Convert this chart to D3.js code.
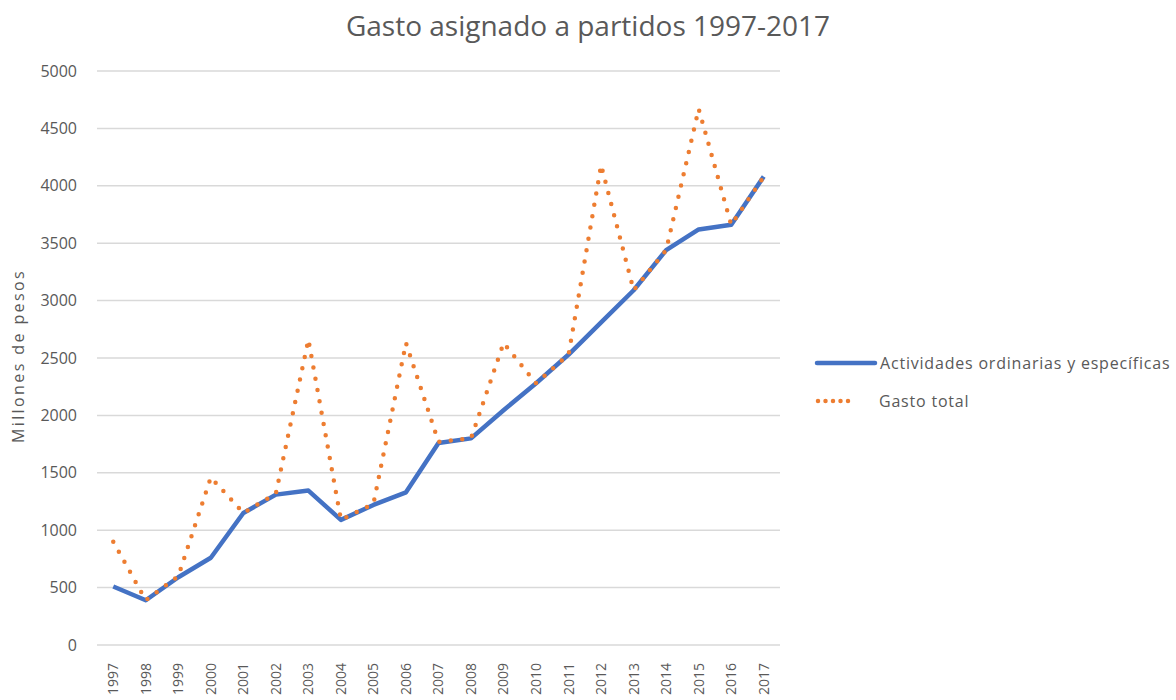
<!DOCTYPE html>
<html>
<head>
<meta charset="utf-8">
<script src="https://cdn.jsdelivr.net/npm/d3@7"></script>
<style>
	body { margin: 0; background: #fff; }
	text { font-family: 'Open Sans', sans-serif; fill: #595959; }
</style>
</head>
<body>
<svg width="1176" height="700"></svg>
<script>
const years = ['1997', '1998', '1999', '2000', '2001', '2002', '2003', '2004', '2005', '2006', '2007',
	'2008', '2009', '2010', '2011', '2012', '2013', '2014', '2015', '2016', '2017'];
const actividades = [510, 390, 590, 760, 1150, 1310, 1345, 1090, 1220, 1330, 1760,
	1800, 2045, 2280, 2530, 2810, 3090, 3440, 3620, 3660, 4080];
const gastoTotal = [900, 390, 600, 1460, 1150, 1320, 2660, 1090, 1230, 2630, 1770,
	1800, 2630, 2280, 2530, 4180, 3090, 3440, 4670, 3660, 4080];
const yTicks = [0, 500, 1000, 1500, 2000, 2500, 3000, 3500, 4000, 4500, 5000];

const svg = d3.select('svg');
const margin = { left: 97, right: 396, top: 71, bottom: 55 };
const width = +svg.attr('width');
const height = +svg.attr('height');

const x = d3.scaleBand()
	.domain(years)
	.range([margin.left, width - margin.right]);

const y = d3.scaleLinear()
	.domain([0, 5000])
	.range([height - margin.bottom, margin.top]);

// gridlines
svg.append('g')
	.selectAll('line')
	.data(yTicks)
	.enter()
	.append('line')
	.attr('x1', margin.left)
	.attr('x2', width - margin.right)
	.attr('y1', d => y(d))
	.attr('y2', d => y(d))
	.attr('stroke', '#d9d9d9')
	.attr('stroke-width', 1.5);

const yAxis = svg.append('g')
	.attr('transform', `translate(${margin.left},0)`)
	.call(d3.axisLeft(y).tickValues(yTicks).tickFormat(d3.format('d')).tickSize(0).tickPadding(20));
yAxis.select('.domain').remove();
yAxis.selectAll('text')
	.attr('font-size', 16)
	.attr('fill', '#595959')
	.style('font-family', "'Open Sans', sans-serif");

const xAxis = svg.append('g')
	.attr('transform', `translate(0,${height - margin.bottom})`)
	.call(d3.axisBottom(x).tickSize(0));
xAxis.select('.domain').remove();
xAxis.selectAll('text')
	.attr('font-size', 14)
	.attr('fill', '#595959')
	.style('font-family', "'Open Sans', sans-serif")
	.attr('text-anchor', 'end')
	.attr('dy', '0.35em')
	.attr('transform', 'rotate(-90)')
	.attr('x', -18)
	.attr('y', 0);

const line = d3.line()
	.x((d, i) => x(years[i]) + x.bandwidth() / 2)
	.y(d => y(d));

svg.append('path')
	.datum(actividades)
	.attr('d', line)
	.attr('fill', 'none')
	.attr('stroke', '#4472C4')
	.attr('stroke-width', 4.5)
	.attr('stroke-linejoin', 'round');

svg.append('path')
	.datum(gastoTotal)
	.attr('d', line)
	.attr('fill', 'none')
	.attr('stroke', '#ED7D31')
	.attr('stroke-width', 4.5)
	.attr('stroke-linecap', 'round')
	.attr('stroke-dasharray', '0 11.5');

// title
svg.append('text')
	.attr('x', 588)
	.attr('y', 36)
	.attr('text-anchor', 'middle')
	.attr('font-size', 28)
	.text('Gasto asignado a partidos 1997-2017');

svg.append('text')
	.attr('transform', `translate(24,${y(2500) - 2}) rotate(-90)`)
	.attr('text-anchor', 'middle')
	.attr('font-size', 16)
	.attr('letter-spacing', 2.4)
	.text('Millones de pesos');

// legend
const legendItems = [
	{ name: 'Actividades ordinarias y específicas', colour: '#4472C4', dash: null, textX: 63 },
	{ name: 'Gasto total', colour: '#ED7D31', dash: '0 7.5', textX: 62 },
];
const legend = svg.append('g')
	.selectAll('g')
	.data(legendItems)
	.enter()
	.append('g')
	.attr('transform', (d, i) => `translate(817,${363 + i * 38})`);

legend.append('line')
	.attr('x1', d => d.dash ? 1 : 0)
	.attr('x2', d => d.dash ? 32 : 58)
	.attr('stroke', d => d.colour)
	.attr('stroke-width', 4.5)
	.attr('stroke-linecap', 'round')
	.attr('stroke-dasharray', d => d.dash);

legend.append('text')
	.attr('x', d => d.textX)
	.attr('dy', '0.35em')
	.attr('font-size', 16)
	.attr('letter-spacing', 0.8)
	.text(d => d.name);
</script>
</body>
</html>
